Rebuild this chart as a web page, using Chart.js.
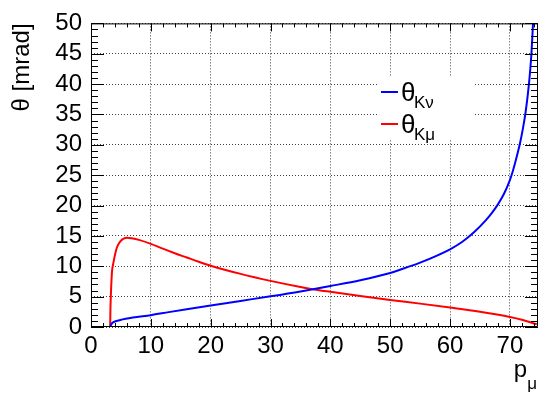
<!DOCTYPE html>
<html>
<head>
<meta charset="utf-8">
<script src="https://cdn.jsdelivr.net/npm/chart.js@4.4.1/dist/chart.umd.min.js"></script>
<style>
  html, body { margin: 0; padding: 0; background: #fff; }
  canvas { display: block; }
</style>
</head>
<body>
<canvas id="chartTheta" width="538" height="396"></canvas>
<script>
// theta_K-nu vs p_mu
const kNuMomentum = [3.2, 3.4, 3.75, 4.9, 7, 10, 13, 16, 20, 25, 30, 35, 40, 45, 50, 53, 55, 60, 62, 64, 66, 67, 68, 69, 70, 70.5, 71, 71.7, 72.2, 72.6, 73, 73.3, 73.6, 73.87];
const kNuTheta    = [0, 0.45, 0.8, 1.15, 1.55, 1.95, 2.45, 2.93, 3.55, 4.3, 5.05, 5.85, 6.75, 7.7, 8.9, 9.9, 10.6, 12.8, 14.0, 15.6, 17.6, 18.8, 20.2, 21.9, 24.2, 25.7, 27.5, 30.3, 32.8, 35.2, 38.3, 41.2, 45.0, 50.0];

// theta_K-mu vs p_mu
const kMuMomentum = [3.2, 3.25, 3.35, 3.5, 3.75, 4.3, 4.9, 6.0, 6.8, 8, 10, 12, 14, 16, 18, 20, 25, 30, 35, 37.6, 40, 45, 50, 55, 60, 65, 70, 72, 74.5];
const kMuTheta    = [0, 3, 6, 9.0, 10.6, 13.0, 14.1, 14.7, 14.6, 14.35, 13.7, 12.9, 12.15, 11.45, 10.75, 10.1, 8.75, 7.6, 6.6, 6.15, 5.8, 5.1, 4.45, 3.85, 3.2, 2.5, 1.65, 1.2, 0.45];

const xMin = 0, xMax = 74.7, xStep = 10, xMinorStep = 2;
const yMin = 0, yMax = 50, yStep = 5, yMinorStep = 1;

const FONT = '"Liberation Sans", Arial, Helvetica, sans-serif';

function toPoints(xs, ys) {
    return xs.map((x, i) => ({ x: x, y: ys[i] }));
}

// Cadre ROOT : bords, graduations vers l'intérieur sur les 4 côtés
const framePlugin = {
    id: 'frame',
    afterDatasetsDraw(chart) {
        const { ctx, chartArea: a, scales } = chart;
        const xs = scales.x, ys = scales.y;
        ctx.save();
        ctx.strokeStyle = '#000';
        ctx.lineWidth = 1;
        ctx.beginPath();
        ctx.rect(a.left + 0.5, a.top + 0.5, a.right - a.left - 1, a.bottom - a.top - 1);
        ctx.stroke();

        ctx.beginPath();
        for (let v = xMin; v <= xMax + 1e-9; v += xMinorStep) {
            const px = Math.round(xs.getPixelForValue(v)) + 0.5;
            const len = (Math.abs(v % xStep) < 1e-6) ? 8 : 4;
            ctx.moveTo(px, a.bottom); ctx.lineTo(px, a.bottom - len);
            ctx.moveTo(px, a.top); ctx.lineTo(px, a.top + len);
        }
        for (let v = yMin; v <= yMax + 1e-9; v += yMinorStep) {
            const py = Math.round(ys.getPixelForValue(v)) + 0.5;
            const len = (Math.abs(v % yStep) < 1e-6) ? 13 : 7;
            ctx.moveTo(a.left, py); ctx.lineTo(a.left + len, py);
            ctx.moveTo(a.right, py); ctx.lineTo(a.right - len, py);
        }
        ctx.stroke();
        ctx.restore();
    }
};

// Légende et titre de l'axe x avec indices
const labelsPlugin = {
    id: 'subLabels',
    afterDraw(chart) {
        const { ctx } = chart;
        ctx.save();

        // boîte de légende
        ctx.fillStyle = '#fff';
        ctx.fillRect(377, 77, 96, 63);

        const entries = [
            { color: '#0000ff', sub: 'K\u03bd', y: 92 },
            { color: '#ff0000', sub: 'K\u03bc', y: 124 }
        ];
        entries.forEach(e => {
            ctx.strokeStyle = e.color;
            ctx.lineWidth = 2;
            ctx.beginPath();
            ctx.moveTo(381, e.y);
            ctx.lineTo(398, e.y);
            ctx.stroke();
            ctx.fillStyle = '#000';
            ctx.textAlign = 'left';
            ctx.textBaseline = 'alphabetic';
            ctx.font = '26px ' + FONT;
            ctx.fillText('\u03b8', 401, e.y + 9);
            ctx.font = '17px ' + FONT;
            ctx.fillText(e.sub, 414, e.y + 16);
        });

        // titre axe x : p_mu
        ctx.fillStyle = '#000';
        ctx.textAlign = 'right';
        ctx.font = '17px ' + FONT;
        ctx.fillText('\u03bc', 537, 389);
        const muW = ctx.measureText('\u03bc').width;
        ctx.font = '24px ' + FONT;
        ctx.fillText('p', 537 - muW, 377);
        ctx.restore();
    }
};

new Chart(document.getElementById('chartTheta'), {
    type: 'line',
    data: {
        datasets: [
            {
                label: '\u03b8_K\u03bd',
                data: toPoints(kNuMomentum, kNuTheta),
                borderColor: '#0000ff',
                borderWidth: 2,
                pointRadius: 0,
                cubicInterpolationMode: 'monotone',
                fill: false
            },
            {
                label: '\u03b8_K\u03bc',
                data: toPoints(kMuMomentum, kMuTheta),
                borderColor: '#ff0000',
                borderWidth: 2,
                pointRadius: 0,
                cubicInterpolationMode: 'monotone',
                fill: false
            }
        ]
    },
    options: {
        responsive: false,
        devicePixelRatio: 1,
        animation: false,
        layout: { padding: { left: 0, right: 0, top: 14, bottom: 0 } },
        plugins: {
            legend: { display: false },
            tooltip: { enabled: false }
        },
        scales: {
            x: {
                type: 'linear',
                min: xMin,
                max: xMax,
                afterFit(scale) { scale.height = 69; },
                ticks: {
                    stepSize: xStep,
                    includeBounds: false,
                    autoSkip: false,
                    padding: 5,
                    color: '#000',
                    font: { family: FONT, size: 24 },
                    maxRotation: 0
                },
                grid: {
                    color: 'rgba(0,0,0,0.75)',
                    drawTicks: false,
                    lineWidth: 1
                },
                border: { display: false, dash: [1, 2] }
            },
            y: {
                type: 'linear',
                min: yMin,
                max: yMax,
                afterFit(scale) { scale.width = 91; },
                ticks: {
                    stepSize: yStep,
                    autoSkip: false,
                    padding: 9,
                    color: '#000',
                    font: { family: FONT, size: 24 }
                },
                grid: {
                    color: 'rgba(0,0,0,0.75)',
                    drawTicks: false,
                    lineWidth: 1
                },
                border: { display: false, dash: [1, 2] },
                title: {
                    display: true,
                    text: '\u03b8 [mrad]',
                    align: 'end',
                    color: '#000',
                    font: { family: FONT, size: 24 },
                    padding: { top: 8, bottom: 0 }
                }
            }
        }
    },
    plugins: [framePlugin, labelsPlugin]
});
</script>
</body>
</html>
